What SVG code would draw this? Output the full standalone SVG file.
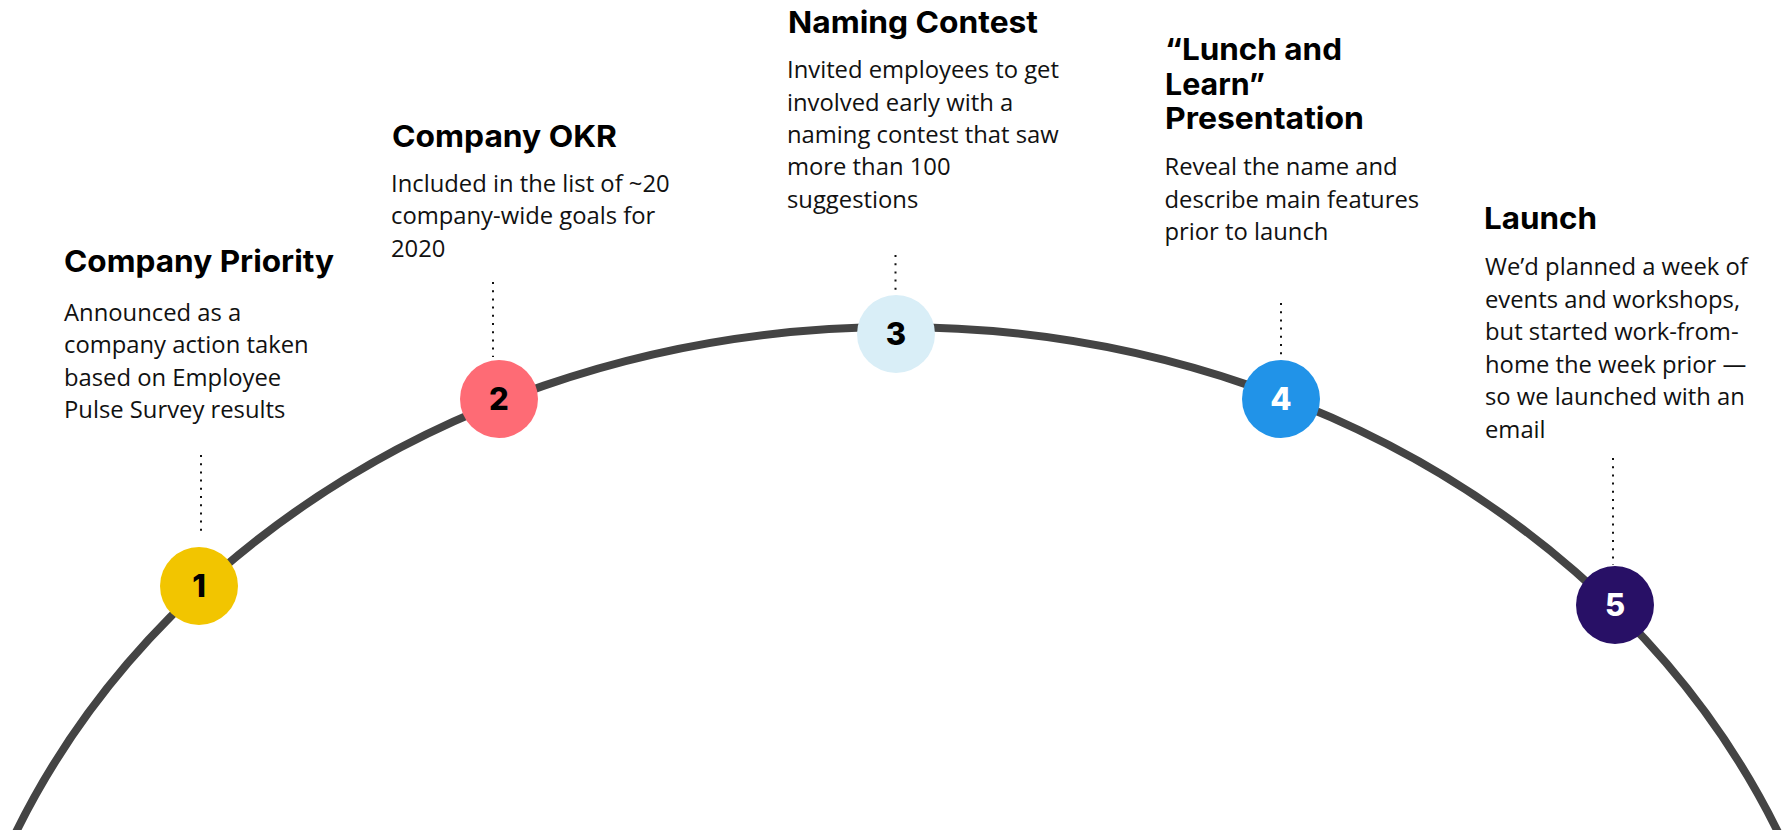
<svg xmlns="http://www.w3.org/2000/svg" width="1783" height="830" viewBox="0 0 1783 830">
  <style>
    .title { font-family: Inter, "Liberation Sans", sans-serif; font-weight: 700; font-size: 30px; fill: #000; }
    .body { font-family: "Open Sans", "Liberation Sans", sans-serif; font-weight: 400; font-size: 23.8px; fill: #111; }
    .num { font-family: Inter, "Liberation Sans", sans-serif; font-weight: 800; font-size: 31px; text-anchor: middle; }
    .arc { fill: none; stroke: #444444; stroke-width: 8; }
    .dots { fill: none; stroke: #111; stroke-width: 2; stroke-dasharray: 2 6.2; }
  </style>
  <rect width="1783" height="830" fill="#ffffff"/>

  <g id="connectors">
    <ellipse class="arc" cx="897" cy="1162" rx="959" ry="835"/>
    <line class="dots" x1="201" y1="455" x2="201" y2="537"/>
    <line class="dots" x1="493" y1="282" x2="493" y2="357"/>
    <line class="dots" x1="895.5" y1="255" x2="895.5" y2="296"/>
    <line class="dots" x1="1281" y1="303" x2="1281" y2="359"/>
    <line class="dots" x1="1613" y1="458" x2="1613" y2="565"/>
  </g>

  <g id="node-1">
    <circle cx="199" cy="586" r="39" fill="#F2C500"/>
    <text class="num" x="199" y="597" fill="#000">1</text>
    <text class="title" x="64" y="271.5" textLength="270" lengthAdjust="spacingAndGlyphs">Company Priority</text>
    <text class="body" x="64" y="321">Announced as a</text>
    <text class="body" x="64" y="353.4">company action taken</text>
    <text class="body" x="64" y="385.8">based on Employee</text>
    <text class="body" x="64" y="418.2">Pulse Survey results</text>
  </g>

  <g id="node-2">
    <circle cx="499" cy="399" r="39" fill="#FE6B75"/>
    <text class="num" x="499" y="410" fill="#000">2</text>
    <text class="title" x="392" y="147.3" textLength="225" lengthAdjust="spacingAndGlyphs">Company OKR</text>
    <text class="body" x="391" y="191.7">Included in the list of ~20</text>
    <text class="body" x="391" y="224.2">company-wide goals for</text>
    <text class="body" x="391" y="256.7">2020</text>
  </g>

  <g id="node-3">
    <circle cx="896" cy="334" r="39" fill="#D9EEF7"/>
    <text class="num" x="896" y="345" fill="#000">3</text>
    <text class="title" x="788" y="33.3" textLength="250" lengthAdjust="spacingAndGlyphs">Naming Contest</text>
    <text class="body" x="787" y="78.3">Invited employees to get</text>
    <text class="body" x="787" y="110.7">involved early with a</text>
    <text class="body" x="787" y="143">naming contest that saw</text>
    <text class="body" x="787" y="175.3">more than 100</text>
    <text class="body" x="787" y="207.6">suggestions</text>
  </g>

  <g id="node-4">
    <circle cx="1281" cy="399" r="39" fill="#2193E8"/>
    <text class="num" x="1281" y="410" fill="#fff">4</text>
    <text class="title" x="1165" y="60" textLength="177" lengthAdjust="spacingAndGlyphs">“Lunch and</text>
    <text class="title" x="1165" y="94.5" textLength="100" lengthAdjust="spacingAndGlyphs">Learn”</text>
    <text class="title" x="1165" y="129" textLength="199" lengthAdjust="spacingAndGlyphs">Presentation</text>
    <text class="body" x="1164.5" y="175">Reveal the name and</text>
    <text class="body" x="1164.5" y="207.5">describe main features</text>
    <text class="body" x="1164.5" y="240">prior to launch</text>
  </g>

  <g id="node-5">
    <circle cx="1615" cy="605" r="39" fill="#281066"/>
    <text class="num" x="1615" y="616" fill="#fff">5</text>
    <text class="title" x="1484" y="229.3" textLength="113" lengthAdjust="spacingAndGlyphs">Launch</text>
    <text class="body" x="1485" y="275">We’d planned a week of</text>
    <text class="body" x="1485" y="307.5">events and workshops,</text>
    <text class="body" x="1485" y="340">but started work-from-</text>
    <text class="body" x="1485" y="372.5">home the week prior —</text>
    <text class="body" x="1485" y="405">so we launched with an</text>
    <text class="body" x="1485" y="437.5">email</text>
  </g>
</svg>
